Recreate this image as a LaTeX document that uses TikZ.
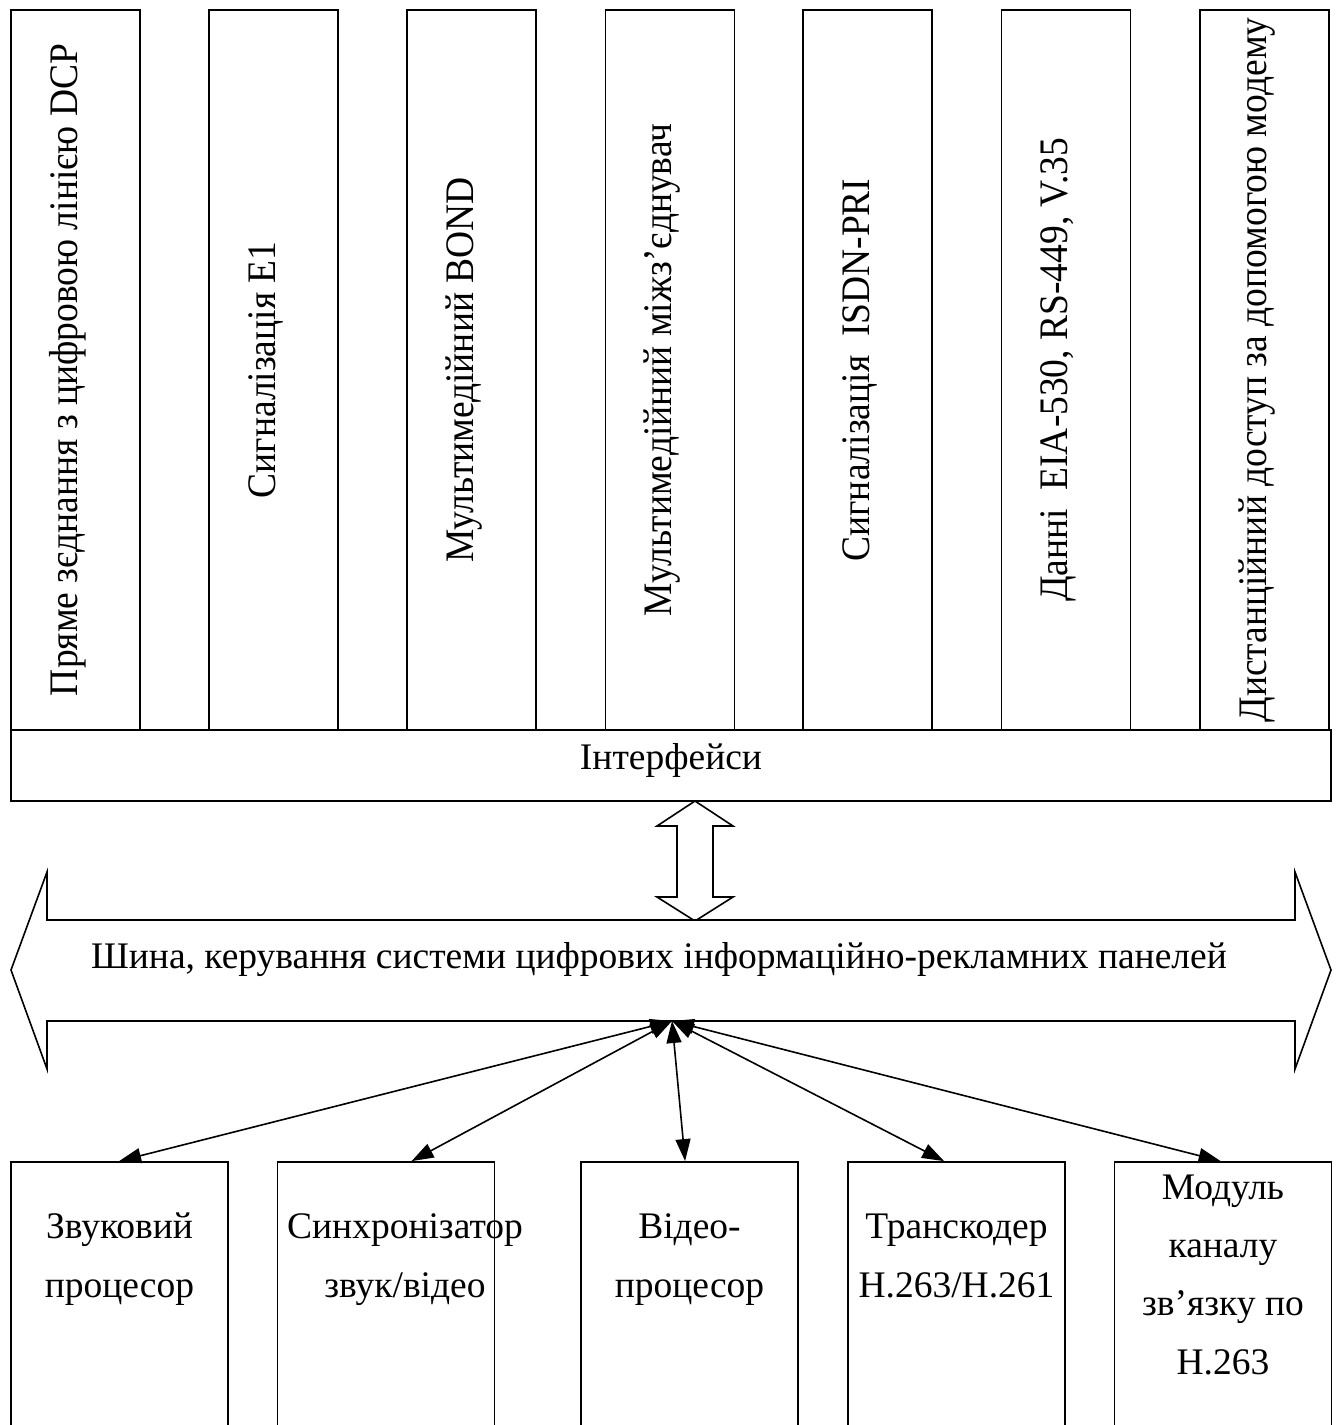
\documentclass[tikz,border=0pt]{standalone}
\usepackage{fontspec}
\setmainfont{Liberation Serif}
\usetikzlibrary{arrows.meta,calc}

\newcommand{\tallglyphs}[1]{\scalebox{1}[1.08]{#1}}

\tikzset{
  frame/.style={draw, line width=1.8pt, inner sep=0pt},
  topbox/.style={frame, minimum width=129pt, minimum height=720pt},
  botbox/.style={frame, minimum width=217pt, minimum height=290pt},
  txt/.style={font=\fontsize{37.5}{58}\selectfont, inner sep=0pt, anchor=base},
  vtxt/.style={txt, rotate=90},
  shape line/.style={line width=1.6pt, line join=miter},
  link/.style={line width=1.6pt,
    {Triangle[length=22pt,width=15pt]}-{Triangle[length=22pt,width=15pt]}},
}

\begin{document}
\begin{tikzpicture}[x=1pt,y=1pt]
\useasboundingbox (0,0) rectangle (1341,-1425);
\clip (0,0) rectangle (1341,-1425);

% interface modules (vertical boxes)
\node[topbox] (m1) at (75.5,-370)  {};
\node[topbox] (m2) at (273.5,-370) {};
\node[topbox] (m3) at (471.5,-370) {};
\node[topbox] (m4) at (670,-370)   {};
\node[topbox] (m5) at (867.5,-370) {};
\node[topbox] (m6) at (1066,-370)  {};
\node[topbox] (m7) at (1264.5,-370) {};

\node[vtxt] (m1t) at ([xshift=67pt]m1.west) {\tallglyphs{Пряме зєднання з цифровою лінією DCP}};
\node[vtxt] (m2t) at ([xshift=67pt]m2.west) {\tallglyphs{Сигналізація Е1}};
\node[vtxt] (m3t) at ([xshift=67pt]m3.west) {\tallglyphs{Мультимедійний BOND}};
\node[vtxt] (m4t) at ([xshift=67pt]m4.west) {\tallglyphs{Мультимедійний міжз’єднувач}};
\node[vtxt] (m5t) at ([xshift=67pt]m5.west) {\tallglyphs{Сигналізація\ \ ISDN-PRI}};
\node[vtxt] (m6t) at ([xshift=67pt]m6.west) {\tallglyphs{Данні\ \ EIA-530, RS-449, V.35}};
\node[vtxt] (m7t) at ([xshift=67pt]m7.west) {\tallglyphs{Дистанційний доступ за допомогою модему}};

% interface bar
\node[frame, minimum width=1320pt, minimum height=71pt] (iface) at (671,-765.5) {};
\node[txt] (ifacet) at (671,-769) {Інтерфейси};

% vertical double arrow between the bar and the bus
\draw[shape line, fill=white]
  (695,-801) -- (733,-826) -- (713,-826) -- (713,-897) -- (733,-897)
  -- (695,-921) -- (657,-897) -- (677,-897) -- (677,-826) -- (657,-826) -- cycle;

% control bus
\draw[shape line, fill=white]
  (11,-970) -- (47,-872) -- (47,-920) -- (1295,-920) -- (1295,-872)
  -- (1331,-970) -- (1295,-1069) -- (1295,-1021) -- (47,-1021)
  -- (47,-1069) -- cycle;
\node[txt] (bust) at (659,-968)
  {Шина, керування системи цифрових інформаційно-рекламних панелей};
\coordinate (hub) at (672,-1021);

% processing modules
\node[botbox] (p1) at (119.5,-1307) {};
\node[botbox] (p2) at (386,-1307)   {};
\node[botbox] (p3) at (689.5,-1307) {};
\node[botbox] (p4) at (956.5,-1307) {};
\node[botbox] (p5) at (1223,-1307)  {};

\node[txt] (p1a) at (119.5,-1238) {Звуковий};
\node[txt] (p1b) at (119.5,-1297) {процесор};
\node[txt] (p2a) at (405,-1238) {Синхронізатор};
\node[txt] (p2b) at (405,-1297) {звук/відео};
\node[txt] (p3a) at (689.5,-1238) {Відео-};
\node[txt] (p3b) at (689.5,-1297) {процесор};
\node[txt] (p4a) at (956.5,-1238) {Транскодер};
\node[txt] (p4b) at (956.5,-1297) {Н.263/Н.261};
\node[txt] (p5a) at (1223,-1199) {Модуль};
\node[txt] (p5b) at (1223,-1257) {каналу};
\node[txt] (p5c) at (1223,-1315) {зв’язку по};
\node[txt] (p5d) at (1223,-1374) {Н.263};

% links from the bus to the modules
\draw[link] (hub) -- ([xshift=109pt]p1.north west);
\draw[link] (hub) -- ([xshift=135pt]p2.north west);
\draw[link] (hub) -- ([xshift=105pt]p3.north west);
\draw[link] (hub) -- ([xshift=97pt]p4.north west);
\draw[link] (hub) -- ([xshift=107pt]p5.north west);
\end{tikzpicture}
\end{document}
